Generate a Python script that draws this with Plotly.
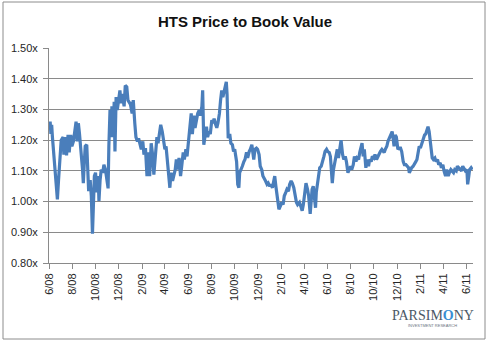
import plotly.graph_objects as go
from datetime import date

# ---- data ----
dates = [
    # 2008
    "2008-06-02","2008-06-04","2008-06-06","2008-06-08","2008-06-10","2008-06-16","2008-06-20","2008-06-23","2008-06-26","2008-06-30",
    "2008-07-03","2008-07-08","2008-07-10","2008-07-14","2008-07-17","2008-07-21","2008-07-24","2008-07-28","2008-07-31",
    "2008-08-04","2008-08-07","2008-08-11","2008-08-14","2008-08-17","2008-08-20","2008-08-22","2008-08-25","2008-08-28","2008-08-30",
    "2008-09-02","2008-09-04","2008-09-08","2008-09-11","2008-09-13","2008-09-17","2008-09-20","2008-09-23","2008-09-25","2008-09-28",
    "2008-10-01","2008-10-05","2008-10-08","2008-10-10","2008-10-13","2008-10-16","2008-10-20","2008-10-23","2008-10-27","2008-10-30",
    "2008-11-03","2008-11-05","2008-11-08","2008-11-11","2008-11-13","2008-11-16","2008-11-19","2008-11-21","2008-11-24","2008-11-27",
    "2008-12-01","2008-12-04","2008-12-07","2008-12-10","2008-12-15","2008-12-18","2008-12-22","2008-12-25","2008-12-30","2008-12-31",
    # 2009
    "2009-01-05","2009-01-08","2009-01-12","2009-01-15","2009-01-19","2009-01-22","2009-01-26","2009-01-29",
    "2009-02-02","2009-02-05","2009-02-09","2009-02-13","2009-02-17","2009-02-20","2009-02-24","2009-02-27",
    "2009-03-03","2009-03-07","2009-03-11","2009-03-14","2009-03-18","2009-03-21","2009-03-25","2009-03-28",
    "2009-04-01","2009-04-04","2009-04-08","2009-04-11","2009-04-14","2009-04-17","2009-04-21","2009-04-24","2009-04-28",
    "2009-05-01","2009-05-05","2009-05-08","2009-05-12","2009-05-15","2009-05-19","2009-05-22","2009-05-26","2009-05-29",
    "2009-06-02","2009-06-05","2009-06-09","2009-06-12","2009-06-16","2009-06-19","2009-06-23","2009-06-26","2009-06-30",
    "2009-07-03","2009-07-07","2009-07-09","2009-07-12","2009-07-15","2009-07-19","2009-07-22","2009-07-26","2009-07-29",
    "2009-08-02","2009-08-05","2009-08-08","2009-08-11","2009-08-15","2009-08-18","2009-08-22","2009-08-25","2009-08-28","2009-08-31",
    "2009-09-03","2009-09-07","2009-09-09","2009-09-11","2009-09-13","2009-09-14","2009-09-18","2009-09-21","2009-09-25","2009-09-28",
    "2009-10-01","2009-10-04","2009-10-06","2009-10-09","2009-10-12","2009-10-14","2009-10-18","2009-10-21","2009-10-25","2009-10-28",
    "2009-11-01","2009-11-04","2009-11-08","2009-11-11","2009-11-15","2009-11-17","2009-11-20","2009-11-23","2009-11-27","2009-11-30",
    "2009-12-04","2009-12-07","2009-12-11","2009-12-14","2009-12-18","2009-12-21","2009-12-25","2009-12-28",
    # 2010
    "2010-01-01","2010-01-04","2010-01-08","2010-01-11","2010-01-14","2010-01-17","2010-01-19","2010-01-23","2010-01-25","2010-01-29",
    "2010-02-01","2010-02-05","2010-02-08","2010-02-12","2010-02-15","2010-02-19","2010-02-22","2010-02-26",
    "2010-03-01","2010-03-05","2010-03-08","2010-03-12","2010-03-15","2010-03-20","2010-03-23","2010-03-27","2010-03-30",
    "2010-04-03","2010-04-06","2010-04-10","2010-04-13","2010-04-17","2010-04-19","2010-04-22","2010-04-25","2010-04-28",
    "2010-05-01","2010-05-03","2010-05-06","2010-05-09","2010-05-12","2010-05-16","2010-05-19","2010-05-23","2010-05-26","2010-05-30",
    "2010-06-02","2010-06-06","2010-06-09","2010-06-12","2010-06-14","2010-06-17","2010-06-20","2010-06-23","2010-06-27","2010-06-30",
    "2010-07-04","2010-07-07","2010-07-11","2010-07-14","2010-07-18","2010-07-21","2010-07-25","2010-07-28",
    "2010-08-01","2010-08-04","2010-08-08","2010-08-11","2010-08-15","2010-08-18","2010-08-22","2010-08-25","2010-08-29","2010-08-31",
    "2010-09-03","2010-09-06","2010-09-10","2010-09-13","2010-09-17","2010-09-20","2010-09-24","2010-09-27",
    "2010-10-01","2010-10-04","2010-10-08","2010-10-11","2010-10-15","2010-10-18","2010-10-22","2010-10-28","2010-10-31",
    "2010-11-04","2010-11-07","2010-11-11","2010-11-14","2010-11-18","2010-11-20","2010-11-23","2010-11-26","2010-11-29",
    "2010-12-03","2010-12-06","2010-12-10","2010-12-13","2010-12-17","2010-12-20","2010-12-24","2010-12-27","2010-12-31",
    # 2011
    "2011-01-02","2011-01-05","2011-01-08","2011-01-12","2011-01-15","2011-01-19","2011-01-22","2011-01-25","2011-01-28","2011-01-31",
    "2011-02-04","2011-02-07","2011-02-11","2011-02-14","2011-02-18","2011-02-20","2011-02-23","2011-02-25","2011-02-28",
    "2011-03-03","2011-03-06","2011-03-10","2011-03-13","2011-03-17","2011-03-20","2011-03-24","2011-03-27","2011-03-31",
    "2011-04-03","2011-04-07","2011-04-10","2011-04-14","2011-04-17","2011-04-21","2011-04-24","2011-04-28",
    "2011-05-01","2011-05-05","2011-05-08","2011-05-12","2011-05-15","2011-05-19","2011-05-22","2011-05-26","2011-05-29",
    "2011-06-02","2011-06-04","2011-06-07","2011-06-09","2011-06-13","2011-06-16",
]

price_to_book = [
    # 2008
    1.24,1.26,1.22,1.25,1.21,1.104,1.05,1.007,1.07,1.17,
    1.20,1.21,1.153,1.21,1.15,1.217,1.16,1.217,1.18,
    1.196,1.233,1.26,1.196,1.255,1.22,1.18,1.147,1.104,1.06,
    1.137,1.18,1.185,1.104,1.034,1.07,1.018,0.895,1.00,1.083,
    1.094,1.03,1.083,1.002,1.07,1.104,1.094,1.12,1.104,1.07,
    1.043,1.18,1.298,1.21,1.31,1.21,1.325,1.163,1.34,1.298,
    1.335,1.362,1.32,1.35,1.31,1.378,1.373,1.33,1.32,1.32,
    # 2009
    1.287,1.33,1.255,1.21,1.196,1.206,1.185,1.17,
    1.196,1.153,1.174,1.083,1.16,1.083,1.19,1.16,
    1.088,1.16,1.21,1.19,1.22,1.25,1.228,1.196,
    1.17,1.18,1.126,1.104,1.045,1.094,1.067,1.083,1.104,
    1.137,1.104,1.142,1.083,1.115,1.16,1.137,1.17,1.147,
    1.196,1.22,1.287,1.22,1.28,1.24,1.265,1.287,1.298,
    1.28,1.31,1.362,1.185,1.21,1.244,1.21,1.228,1.22,
    1.265,1.255,1.27,1.255,1.24,1.255,1.287,1.33,1.362,1.34,
    1.357,1.384,1.39,1.35,1.276,1.206,1.22,1.19,1.185,1.163,
    1.17,1.137,1.13,1.056,1.045,1.094,1.104,1.115,1.13,1.137,
    1.16,1.142,1.163,1.17,1.185,1.16,1.137,1.17,1.174,1.17,
    1.153,1.115,1.104,1.083,1.07,1.067,1.056,1.06,
    # 2010
    1.05,1.056,1.045,1.067,1.083,1.05,1.03,1.007,0.975,0.986,
    0.997,0.99,1.018,1.03,1.04,1.034,1.056,1.067,
    1.06,1.045,1.018,0.997,0.99,0.997,0.986,0.97,0.99,
    1.03,1.06,1.04,1.018,0.96,0.986,1.04,1.05,1.018,
    0.98,1.03,1.06,1.094,1.11,1.115,1.126,1.147,1.163,1.17,
    1.163,1.16,1.147,1.104,1.06,1.104,1.126,1.147,1.17,1.142,
    1.174,1.20,1.153,1.137,1.147,1.13,1.094,1.104,
    1.115,1.104,1.12,1.147,1.13,1.142,1.137,1.16,1.185,1.19,
    1.147,1.17,1.11,1.137,1.115,1.137,1.13,1.147,
    1.142,1.153,1.137,1.147,1.16,1.163,1.17,1.16,1.17,
    1.18,1.196,1.206,1.217,1.228,1.21,1.18,1.217,1.21,
    1.17,1.174,1.174,1.163,1.13,1.12,1.12,1.115,1.11,
    # 2011
    1.094,1.104,1.11,1.115,1.12,1.13,1.137,1.17,1.18,1.174,
    1.19,1.206,1.217,1.22,1.24,1.244,1.228,1.20,1.16,
    1.142,1.137,1.142,1.13,1.137,1.12,1.126,1.11,1.12,
    1.10,1.083,1.104,1.083,1.094,1.104,1.10,1.094,
    1.104,1.10,1.115,1.11,1.104,1.10,1.115,1.104,1.10,
    1.104,1.056,1.083,1.104,1.11,1.104,
]

tick_labels = ["6/08", "8/08", "10/08", "12/08", "2/09", "4/09", "6/09", "8/09", "10/09",
               "12/09", "2/10", "4/10", "6/10", "8/10", "10/10", "12/10", "2/11", "4/11", "6/11"]
y_ticks = [0.80, 0.90, 1.00, 1.10, 1.20, 1.30, 1.40, 1.50]

title_text = "HTS Price to Book Value"

tick_vals = [date(2000 + int(t.split("/")[1]), int(t.split("/")[0]), 1).isoformat() for t in tick_labels]

LINE = "#4a7ebb"
GRID = "#8a8a8a"
TXT = "#262626"
FONT = "Liberation Sans, Arial, sans-serif"

fig = go.Figure()
fig.add_trace(go.Scatter(
    x=dates, y=price_to_book, mode="lines",
    line=dict(color=LINE, width=3.2),
    hoverinfo="skip", showlegend=False,
))

fig.update_layout(
    width=490, height=342,
    margin=dict(l=49, r=17, t=48, b=79, pad=0),
    paper_bgcolor="white", plot_bgcolor="white",
    font=dict(family=FONT, size=11, color=TXT),
    title=dict(text="<b>" + title_text + "</b>", x=0.5, xanchor="center",
               y=1 - 21.5 / 342, yanchor="middle", yref="container",
               font=dict(family=FONT, size=15, color="#111111")),
    showlegend=False,
)

fig.update_xaxes(
    type="date", range=["2008-06-01", "2011-06-18"],
    tickmode="array", tickvals=tick_vals, ticktext=tick_labels,
    tickangle=-90, ticks="outside", ticklen=5, tickcolor=GRID,
    showline=True, linecolor=GRID, linewidth=1,
    showgrid=False, zeroline=False,
    tickfont=dict(family=FONT, size=11, color=TXT),
)
fig.update_yaxes(
    range=[0.8, 1.5], tickmode="array", tickvals=y_ticks,
    ticktext=[f"{v:.2f}x" for v in y_ticks],
    ticks="outside", ticklen=5, tickcolor=GRID,
    showline=True, linecolor=GRID, linewidth=1,
    showgrid=True, gridcolor=GRID, gridwidth=1, zeroline=False,
    tickfont=dict(family=FONT, size=11, color=TXT),
    ticklabelstandoff=3,
)

# chart-area border
fig.add_shape(type="rect", xref="paper", yref="paper",
              x0=(3 - 49) / 424, x1=(485 - 49) / 424,
              y0=(263 - 339) / 215, y1=(263 - 2) / 215,
              line=dict(color="#8c8c8c", width=1), fillcolor="rgba(0,0,0,0)", layer="below")

# logo text
fig.add_annotation(xref="paper", yref="paper",
                   x=(433 - 49) / 424, y=(263 - 315) / 215,
                   text="PARSIM<span style='color:#3a8fd3'><b>O</b></span>NY",
                   showarrow=False, xanchor="center", yanchor="middle",
                   font=dict(family="Liberation Serif, DejaVu Serif, serif", size=14, color="#4b5865"))
fig.add_annotation(xref="paper", yref="paper",
                   x=(432 - 49) / 424, y=(263 - 325) / 215,
                   text="INVESTMENT RESEARCH",
                   showarrow=False, xanchor="center", yanchor="middle",
                   font=dict(family=FONT, size=4, color="#6a7480"))

fig.write_html("out.html")
